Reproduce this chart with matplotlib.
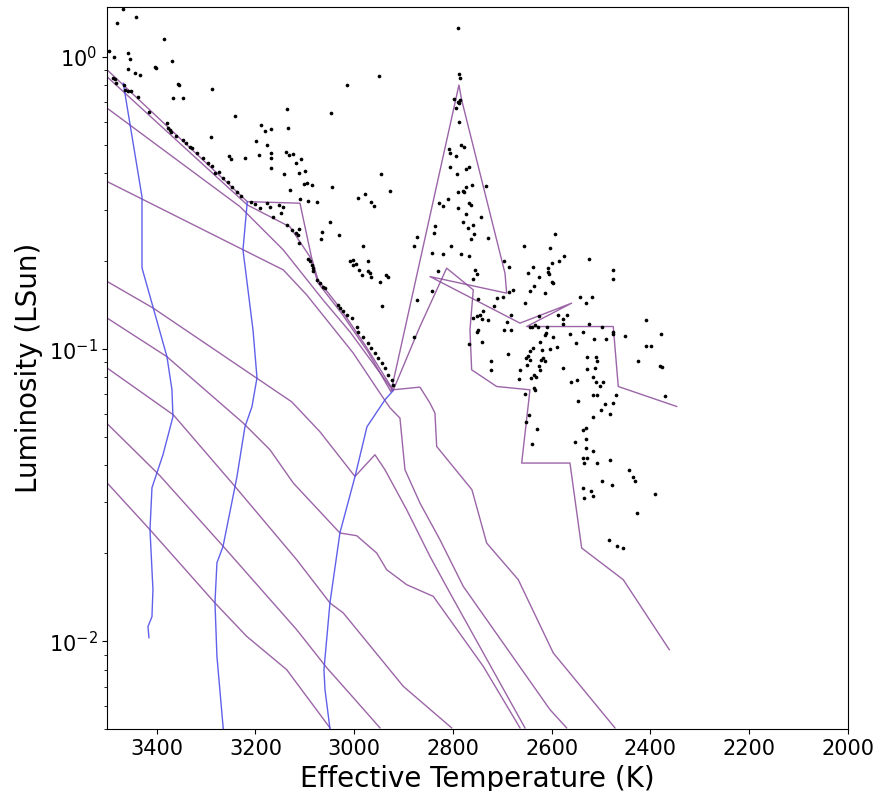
import matplotlib

matplotlib.use("Agg")
import matplotlib.pyplot as plt
import numpy as np

# ---- isochrones (Teff in K, log10 L/Lsun) ----
iso1_teff = [3500, 3216.5, 3109.8, 3086.1, 3073.3, 3028.8, 2978.1, 2921.4, 2866.8, 2846.5,
             2836.4, 2832.9, 2761.5, 2731.7, 2667.7, 2596.8, 2471.9]
iso1_logl = [-0.0448, -0.4952, -0.5007, -0.6878, -0.7630, -0.8588, -0.9853, -1.1392, -1.1300, -1.1847,
             -1.2189, -1.3331, -1.4812, -1.6635, -1.7890, -2.0397, -2.2962]

iso2_teff = [3500, 3216.5, 3130.0, 3089.5, 3073.3, 3024.7, 2972.1, 2925.5, 2787.8, 2782.3,
             2694.6, 2691.2, 2846.5, 2664.2, 2559.6, 2650.7, 2475.3, 2465.2, 2346.9]
iso2_logl = [-0.0687, -0.5065, -0.5817, -0.6843, -0.7733, -0.8793, -1.0092, -1.1460, -0.0961, -0.1474,
             -0.7401, -0.8085, -0.7517, -0.9111, -0.8427, -0.9227, -0.9227, -1.1279, -1.1963]

iso3_teff = [3500, 3231.3, 3143.6, 3063.2, 3008.5, 2964.0, 2921.4, 2866.8, 2812.7, 2758.8,
             2765.5, 2762.1, 2711.4, 2644.0, 2660.8, 2563.0, 2539.3, 2455.1, 2361.9]
iso3_logl = [-0.1758, -0.5123, -0.6604, -0.8314, -0.9408, -1.0434, -1.1426, -0.9227, -0.7230, -0.7972,
             -0.9340, -1.0708, -1.1279, -1.1392, -1.3899, -1.3899, -1.6806, -1.7890, -2.0284]

iso4_teff = [3500, 3231.3, 3143.6, 3096.2, 3001.8, 2947.8, 2927.5, 2907.3, 2897.1, 2866.8,
             2826.3, 2779.1, 2603.5, 2569.7]
iso4_logl = [-0.4268, -0.6546, -0.7288, -0.8143, -1.0137, -1.1505, -1.2008, -1.2360, -1.4128, -1.5267,
             -1.6522, -1.8119, -2.2336, -2.2962]

iso5_teff = [3500, 3406.8, 3197.5, 3126.6, 3069.3, 2998.4, 2957.9, 2937.6, 2893.7, 2846.5, 2806.0, 2654.1]
iso5_logl = [-0.7688, -0.8598, -1.0992, -1.1802, -1.2828, -1.4357, -1.3615, -1.4128, -1.5496, -1.7093,
             -1.8345, -2.2962]

iso6_teff = [3500, 3379.7, 3224.6, 3170.5, 3123.3, 3028.8, 2994.9, 2954.4, 2934.2, 2893.7, 2839.8,
             2738.6, 2664.2]
iso6_logl = [-0.8940, -1.0253, -1.2531, -1.3444, -1.4583, -1.6293, -1.6385, -1.6977, -1.7548, -1.8061,
             -1.8461, -2.0855, -2.2962]

iso7_teff = [3500, 3366.3, 3241.4, 3116.5, 3049.0, 3022.1, 2961.3, 2900.6, 2802.6]
iso7_logl = [-1.0650, -1.2247, -1.4699, -1.7206, -1.8687, -1.9029, -2.0284, -2.1539, -2.2962]

iso8_teff = [3500, 3393.3, 3265.1, 3116.5, 3055.7, 3001.8, 2947.8]
iso8_logl = [-1.2555, -1.4333, -1.6751, -1.9600, -2.0900, -2.1926, -2.2962]

iso9_teff = [3500, 3413.5, 3281.9, 3217.7, 3136.7, 3049.0]
iso9_logl = [-1.4583, -1.6180, -1.8687, -1.9829, -2.0968, -2.2962]

# ---- evolutionary tracks ----
trk1_teff = [3467.6, 3429.7, 3429.7, 3407.5, 3379.1, 3369.0, 3367.0, 3387.2, 3409.5, 3413.5,
             3407.5, 3409.5, 3417.6, 3415.6]
trk1_logl = [-0.0903, -0.4791, -0.7220, -0.8553, -1.0263, -1.1392, -1.2315, -1.3615, -1.4744, -1.6180,
             -1.8232, -1.9155, -1.9497, -1.9874]

trk2_teff = [3216.5, 3225.2, 3204.9, 3196.8, 3207.0, 3221.2, 3237.4, 3241.4, 3265.7, 3277.9,
             3281.9, 3277.9, 3265.1]
trk2_logl = [-0.4962, -0.6604, -0.9340, -1.0982, -1.1973, -1.2657, -1.4367, -1.4709, -1.6761, -1.7309,
             -1.8677, -2.0523, -2.2996]

trk3_teff = [2921.4, 2937.6, 2974.1, 2998.4, 3028.8, 3049.0, 3061.2, 3059.1, 3049.0]
trk3_logl = [-1.1426, -1.1734, -1.2657, -1.4367, -1.6283, -1.8677, -2.0968, -2.1652, -2.2996]

# ---- observed stars ----
stars_a_teff = [3469, 3480, 3442, 3385, 3496, 3486, 3458, 3453, 3369, 3458,
                3444, 3434, 3403, 3401, 3488, 3484, 3482, 3466, 3464, 3458,
                3451, 3437, 3356, 3354, 3366, 3347, 3415, 3288, 3242, 3380,
                3377, 3373, 3370, 3346, 3333, 3329, 3318, 3306, 3296, 3282,
                3265, 3255, 3248, 3238, 3289, 3253, 3250, 3221, 3193, 3199,
                3189, 3181, 3169, 3177, 3169, 3169, 3169, 3142, 3137, 3135,
                3138, 3131, 3123, 3118, 3108, 3111, 3100, 3102, 3095, 3086,
                3129, 3110, 3094, 3075, 3046, 3015, 2949, 2946, 2928, 3044,
                2992, 2978, 2965, 2960, 3208, 3201, 3191, 3177, 3171, 3164,
                3152, 3145, 3148, 3136, 3125, 3117, 3111, 3114, 3111, 3065,
                3068, 3048, 3030, 2982, 3361, 3341, 3288, 3274, 3229]
stars_a_logl = [0.163, 0.117, 0.135, 0.062, 0.021, -0.001, 0.012, -0.006, -0.015, -0.042,
                -0.054, -0.061, -0.034, -0.038, -0.073, -0.077, -0.090, -0.096, -0.113, -0.116,
                -0.116, -0.136, -0.094, -0.097, -0.142, -0.142, -0.187, -0.110, -0.201, -0.227,
                -0.244, -0.250, -0.256, -0.284, -0.307, -0.313, -0.330, -0.347, -0.364, -0.398,
                -0.415, -0.427, -0.444, -0.461, -0.273, -0.339, -0.350, -0.346, -0.337, -0.288,
                -0.233, -0.252, -0.246, -0.301, -0.330, -0.347, -0.381, -0.400, -0.178, -0.242,
                -0.324, -0.337, -0.333, -0.364, -0.350, -0.396, -0.389, -0.436, -0.432, -0.437,
                -0.456, -0.487, -0.493, -0.496, -0.192, -0.096, -0.065, -0.400, -0.458, -0.446,
                -0.483, -0.469, -0.497, -0.510, -0.495, -0.503, -0.518, -0.499, -0.514, -0.547,
                -0.507, -0.514, -0.533, -0.575, -0.592, -0.603, -0.590, -0.609, -0.638, -0.600,
                -0.623, -0.565, -0.610, -0.647, -0.271, -0.294, -0.373, -0.394, -0.476]

stars_b_teff = [3093, 3090, 3086, 3084, 3083, 3076, 3069, 3064, 3059, 3032,
                3029, 3022, 3015, 3005, 2995, 2992, 2982, 2972, 2965, 2958,
                2951, 2944, 2938, 2931, 2924, 2921, 3009, 3002, 2996, 3002,
                2973, 2990, 2985, 2972, 2968, 2965, 2948, 2936, 2932, 2943,
                2873, 2879, 2873, 2879]
stars_b_logl = [-0.692, -0.700, -0.712, -0.723, -0.731, -0.763, -0.774, -0.786, -0.791, -0.849,
                -0.860, -0.871, -0.883, -0.894, -0.923, -0.940, -0.957, -0.980, -0.997, -1.014,
                -1.031, -1.048, -1.065, -1.088, -1.105, -1.122, -0.700, -0.695, -0.708, -0.712,
                -0.700, -0.729, -0.746, -0.731, -0.738, -0.754, -0.769, -0.746, -0.752, -0.852,
                -0.831, -0.959, -0.615, -0.647]

stars_c_teff = [2790, 2788, 2786, 2798, 2789, 2786, 2787, 2794, 2787, 2807,
                2805, 2794, 2784, 2777, 2806, 2774, 2767, 2792, 2762, 2774,
                2790, 2780, 2778, 2733, 2828, 2820, 2809, 2789, 2767, 2764,
                2774, 2744, 2780, 2760, 2769, 2757, 2764, 2728, 2836, 2838,
                2803, 2656, 2593, 2604]
stars_c_logl = [0.099, -0.058, -0.073, -0.145, -0.153, -0.147, -0.159, -0.176, -0.224, -0.316,
                -0.328, -0.338, -0.301, -0.307, -0.378, -0.383, -0.378, -0.400, -0.438, -0.444,
                -0.464, -0.459, -0.464, -0.441, -0.501, -0.510, -0.487, -0.518, -0.499, -0.507,
                -0.537, -0.547, -0.566, -0.575, -0.586, -0.606, -0.624, -0.620, -0.578, -0.601,
                -0.647, -0.647, -0.606, -0.655]

stars_d_teff = [2843, 2820, 2784, 2767, 2755, 2751, 2759, 2843, 2830, 2697,
                2686, 2647, 2637, 2625, 2607, 2608, 2605, 2600, 2585, 2575,
                2524, 2600, 2597, 2614, 2644, 2636, 2654, 2686, 2678, 2698,
                2710, 2717, 2749, 2739, 2745, 2752, 2742, 2728, 2759, 2749,
                2752, 2767, 2742, 2690, 2697, 2683, 2688, 2683, 2625, 2634,
                2643, 2639, 2627, 2612, 2614, 2609, 2597, 2590, 2604, 2624,
                2637, 2644, 2647, 2652, 2644, 2650, 2620, 2617, 2622, 2614,
                2625, 2624, 2636, 2632, 2641, 2664, 2666, 2722, 2723, 2634,
                2635, 2654, 2645, 2652, 2629, 2639, 2588, 2570, 2578, 2578,
                2543, 2531, 2519, 2524, 2499, 2475, 2475, 2537, 2514, 2489,
                2562, 2551, 2578, 2560, 2549, 2528, 2529, 2510, 2508, 2512,
                2517, 2510, 2502, 2497, 2547, 2517, 2508, 2470, 2492, 2475,
                2501, 2481, 2517, 2531, 2537, 2553, 2531, 2531, 2516, 2537,
                2529, 2508, 2481, 2535, 2475, 2475, 2452, 2410, 2379, 2408,
                2398, 2426, 2381, 2377, 2371]
stars_d_logl = [-0.670, -0.674, -0.674, -0.681, -0.729, -0.743, -0.761, -0.800, -0.731, -0.697,
                -0.720, -0.738, -0.720, -0.752, -0.723, -0.735, -0.743, -0.704, -0.697, -0.683,
                -0.692, -0.769, -0.774, -0.809, -0.800, -0.784, -0.841, -0.803, -0.797, -0.820,
                -0.826, -0.852, -0.829, -0.871, -0.883, -0.888, -0.897, -0.902, -0.894, -0.934,
                -0.940, -0.982, -0.977, -0.906, -0.934, -0.934, -1.016, -0.883, -0.888, -0.917,
                -0.925, -0.925, -0.925, -0.945, -0.951, -0.925, -0.959, -0.993, -1.000, -0.974,
                -0.997, -1.008, -1.025, -1.031, -1.037, -1.054, -1.002, -1.031, -1.037, -1.042,
                -1.057, -1.073, -1.088, -1.096, -1.099, -1.071, -1.103, -1.042, -1.073, -1.139,
                -1.133, -1.153, -1.225, -1.248, -1.274, -1.324, -0.883, -0.883, -0.897, -0.913,
                -0.820, -0.841, -0.820, -0.913, -0.925, -0.940, -0.948, -0.943, -0.966, -0.966,
                -0.948, -0.980, -1.065, -1.111, -1.107, -1.027, -1.068, -1.027, -1.039, -1.065,
                -1.094, -1.114, -1.126, -1.114, -1.176, -1.156, -1.156, -1.156, -1.187, -1.183,
                -1.210, -1.221, -1.233, -1.270, -1.278, -1.319, -1.308, -1.339, -1.347, -1.373,
                -1.373, -1.388, -1.381, -1.390, -0.729, -0.761, -0.955, -0.902, -0.948, -0.989,
                -0.989, -1.042, -1.057, -1.062, -1.162]

stars_e_teff = [2443, 2435, 2431, 2499, 2477, 2537, 2521, 2516, 2534, 2391, 2427, 2483, 2467, 2456]
stars_e_logl = [-1.415, -1.438, -1.453, -1.453, -1.464, -1.475, -1.484, -1.502, -1.510, -1.495,
                -1.561, -1.652, -1.675, -1.680]

isochrones = [
    (iso1_teff, iso1_logl), (iso2_teff, iso2_logl), (iso3_teff, iso3_logl),
    (iso4_teff, iso4_logl), (iso5_teff, iso5_logl), (iso6_teff, iso6_logl),
    (iso7_teff, iso7_logl), (iso8_teff, iso8_logl), (iso9_teff, iso9_logl),
]
tracks = [(trk1_teff, trk1_logl), (trk2_teff, trk2_logl), (trk3_teff, trk3_logl)]

star_teff = np.concatenate([stars_a_teff, stars_b_teff, stars_c_teff, stars_d_teff, stars_e_teff])
star_logl = np.concatenate([stars_a_logl, stars_b_logl, stars_c_logl, stars_d_logl, stars_e_logl])

fig = plt.figure(figsize=(8.75, 7.91), dpi=100)
ax = fig.add_axes([0.1226, 0.0780, 0.8465, 0.9135])

for teff, logl in isochrones:
    ax.plot(teff, 10 ** np.asarray(logl), color="#8a4a98", alpha=0.85, linewidth=1.0, zorder=2)
for teff, logl in tracks:
    ax.plot(teff, 10 ** np.asarray(logl), color="#4f4fe8", alpha=0.9, linewidth=1.0, zorder=2)

ax.scatter(star_teff, 10 ** star_logl, s=7, color="black", zorder=3, linewidths=0)

ax.set_yscale("log")
ax.set_xlim(3500, 2000)
ax.set_ylim(0.005, 1.485)
ax.set_xticks(np.arange(3400, 1999, -200))
ax.tick_params(labelsize=15)
ax.set_xlabel("Effective Temperature (K)", fontsize=20)
ax.set_ylabel("Luminosity (LSun)", fontsize=20)

fig.savefig("out.png", dpi=100)
